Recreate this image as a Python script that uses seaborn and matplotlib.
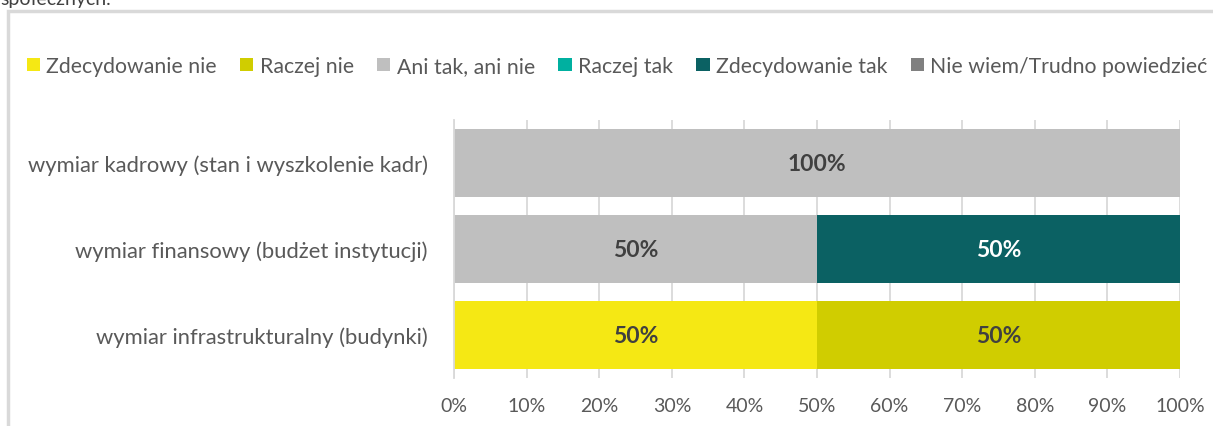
import matplotlib
matplotlib.use("Agg")
import matplotlib.pyplot as plt
from matplotlib.patches import Patch, Rectangle
from matplotlib.ticker import FixedLocator, PercentFormatter
import numpy as np
import pandas as pd
import seaborn as sns

categories = [
    "wymiar kadrowy (stan i wyszkolenie kadr)",
    "wymiar finansowy (budżet instytucji)",
    "wymiar infrastrukturalny (budynki)",
]
responses = ["Zdecydowanie nie", "Raczej nie", "Ani tak, ani nie",
             "Raczej tak", "Zdecydowanie tak", "Nie wiem/Trudno powiedzieć"]
zdecydowanie_nie = [0, 0, 50]
raczej_nie = [0, 0, 50]
ani_tak_ani_nie = [100, 50, 0]
raczej_tak = [0, 0, 0]
zdecydowanie_tak = [0, 50, 0]
nie_wiem = [0, 0, 0]

colors = ["#F5E814", "#D0CD00", "#BFBFBF", "#00B0A0", "#0B6163", "#808080"]
label_colors = ["#404040", "#404040", "#404040", "#404040", "#FFFFFF", "#FFFFFF"]

sns.set_style("white")
plt.rcParams["font.family"] = ["Lato", "DejaVu Sans"]

values = np.array([zdecydowanie_nie, raczej_nie, ani_tak_ani_nie,
                   raczej_tak, zdecydowanie_tak, nie_wiem], dtype=float)
cum = values.cumsum(axis=0)

fig = plt.figure(figsize=(12.13, 4.27), dpi=100)
ax = fig.add_axes([0.3743, 0.1124, 0.5985, 0.6042])

# overlay cumulative bars, widest first
for i in range(len(responses) - 1, -1, -1):
    df = pd.DataFrame({"cat": categories, "val": cum[i]})
    sns.barplot(data=df, x="val", y="cat", order=categories, color=colors[i],
                width=0.78, saturation=1, orient="h", ax=ax, zorder=2,
                linewidth=0)

# segment labels
for i in range(len(responses)):
    for j in range(len(categories)):
        v = values[i, j]
        if v > 0:
            ax.text(cum[i, j] - v / 2, j, f"{v:.0f}%", ha="center", va="center",
                    fontsize=16.5, fontweight="bold", color=label_colors[i], zorder=3)

ax.set_xlim(0, 100)
ax.set_ylim(2.5, -0.5)
ax.set_xticks(np.arange(0, 101, 10))
ax.xaxis.set_major_formatter(PercentFormatter(100, decimals=0))
ax.grid(axis="x", color="#D9D9D9", linewidth=1.3, zorder=0)
ax.set_axisbelow(True)
ax.set_xlabel("")
ax.set_ylabel("")
for s in ["top", "right", "bottom"]:
    ax.spines[s].set_visible(False)
ax.spines["left"].set_color("#D9D9D9")
ax.spines["left"].set_linewidth(1.3)
ax.tick_params(axis="x", length=0, pad=14, labelsize=14, labelcolor="#595959")
ax.tick_params(axis="y", which="major", length=0, pad=19, labelsize=15.8, labelcolor="#595959")
ax.yaxis.set_minor_locator(FixedLocator([-0.5, 0.5, 1.5, 2.5]))
ax.tick_params(axis="y", which="minor", length=6, width=1.3, color="#D9D9D9")

handles = [Patch(facecolor=c, edgecolor="none") for c in colors]
fig.legend(handles, responses, loc="center left", bbox_to_anchor=(0.0062, 1 - 67 / 427),
           ncol=6, frameon=False, fontsize=15.3, handlelength=0.62, handleheight=0.62,
           handletextpad=0.3, columnspacing=1.1, labelcolor="#595959")

# outer frame of the chart box
fig.patches.append(Rectangle((8 / 1213, -0.05), 1.1, 1 - 12 / 427 + 0.05,
                             transform=fig.transFigure, fill=False,
                             edgecolor="#D9D9D9", linewidth=2.5))
fig.text(0.0, 1 - 5 / 427, "społecznych.", fontsize=14, color="#404040", va="baseline")

fig.savefig("out.png", dpi=100)
